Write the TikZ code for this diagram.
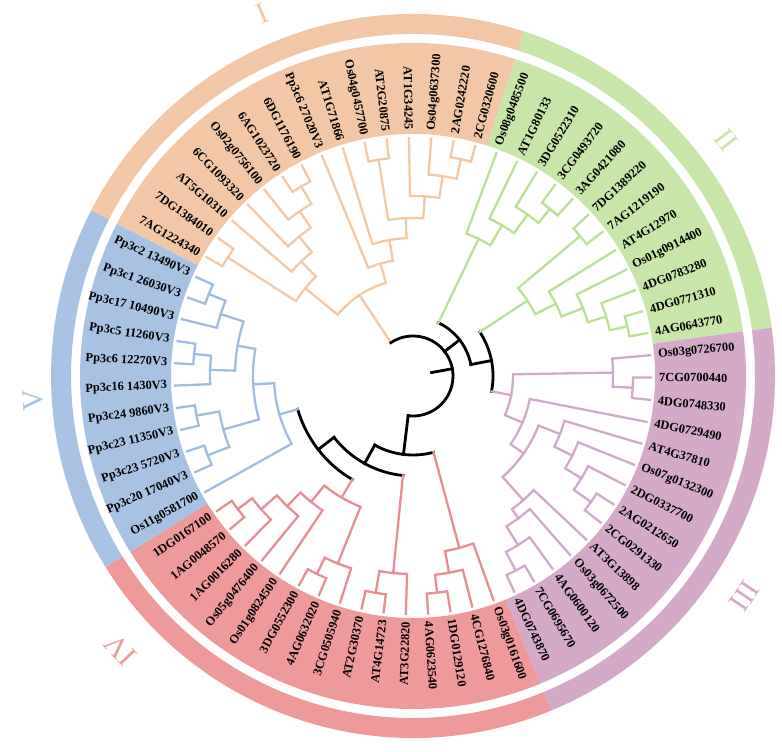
\documentclass[tikz,border=0pt]{standalone}
\usepackage{fontspec}
\setmainfont{Liberation Serif}
\definecolor{bOrg}{RGB}{243,198,165}
\definecolor{bGrn}{RGB}{200,230,168}
\definecolor{bPnk}{RGB}{213,170,201}
\definecolor{bRed}{RGB}{238,154,154}
\definecolor{bBlu}{RGB}{168,194,228}
\definecolor{lOrg}{RGB}{242,200,165}
\definecolor{lGrn}{RGB}{185,225,150}
\definecolor{lPnk}{RGB}{208,170,200}
\definecolor{lRed}{RGB}{232,142,146}
\definecolor{lBlu}{RGB}{160,188,225}
\tikzset{
  br/.style={line width=2.3pt,line cap=rect,line join=miter},
  org/.style={br,draw=lOrg}, grn/.style={br,draw=lGrn}, pnk/.style={br,draw=lPnk},
  red/.style={br,draw=lRed}, blu/.style={br,draw=lBlu},
  blk/.style={line width=2.8pt,line cap=rect,draw=black},
  lab/.style={inner sep=0pt,font=\bfseries\fontsize{12.4}{12.4}\selectfont},
  rom/.style={inner sep=0pt,font=\fontsize{30}{30}\selectfont}
}
\def\T{238}
\newcommand\tn[6]{\draw[#1] (#3:#4pt) -- (#3:#2pt) arc[start angle=#3, end angle=#5, radius=#2pt] -- (#5:#6pt);}
\newcommand\sect[5]{\fill[#1] (#2:#4pt) arc[start angle=#2, end angle=#3, radius=#4pt] -- (#3:#5pt) arc[start angle=#3, end angle=#2, radius=#5pt] -- cycle;}
\begin{document}
\begin{tikzpicture}
\useasboundingbox (-413pt,-376pt) rectangle (369pt,376pt);
% label band
\sect{bGrn}{72.164}{7.687}{242}{333}
\sect{bPnk}{7.687}{-67.537}{242}{333}
\sect{bRed}{-67.537}{-148.134}{242}{333}
\sect{bBlu}{-148.134}{-207.239}{242}{333}
\sect{bOrg}{152.761}{72.164}{242}{333}
% outer ring
\sect{bGrn}{72.164}{7.687}{342}{362}
\sect{bPnk}{7.687}{-67.537}{342}{362}
\sect{bRed}{-67.537}{-148.134}{342}{362}
\sect{bBlu}{-148.134}{-207.239}{342}{362}
\sect{bOrg}{152.761}{72.164}{342}{362}
% roman numerals
\node[rom,text=bOrg,rotate=22.6] (nI) at (112.6:393pt) {I};
\node[rom,text=bGrn,rotate=-53] (nII) at (37:392pt) {II};
\node[rom,text=bPnk,rotate=-123.6] (nIII) at (-33.6:398pt) {III};
\node[rom,text=bRed,rotate=133.1] (nIV) at (-136.9:400pt) {IV};
\node[rom,text=bBlu,rotate=93.6] (nV) at (-176.4:381pt) {V};
% ---- blue clade
\tn{blu}{220}{-204.552}{\T}{-199.179}{\T}
\tn{blu}{202}{-201.866}{220}{-193.806}{\T}
\tn{blu}{220}{-188.433}{\T}{-183.060}{\T}
\tn{blu}{203}{-185.746}{220}{-177.687}{\T}
\tn{blu}{178}{-197.836}{202}{-181.717}{203}
\tn{blu}{220}{-172.313}{\T}{-166.940}{\T}
\tn{blu}{220}{-161.567}{\T}{-156.194}{\T}
\tn{blu}{197}{-169.627}{220}{-158.881}{220}
\tn{blu}{160}{-189.776}{178}{-164.254}{197}
\tn{blu}{139}{-177.015}{160}{-150.821}{\T}
% ---- red clade
\tn{red}{220}{-145.448}{\T}{-140.075}{\T}
\tn{red}{202}{-142.761}{220}{-134.701}{\T}
\tn{red}{181}{-138.731}{202}{-129.328}{\T}
\tn{red}{162}{-134.030}{181}{-123.955}{\T}
\tn{red}{220}{-118.582}{\T}{-113.209}{\T}
\tn{red}{202}{-115.896}{220}{-107.836}{\T}
\tn{red}{141}{-128.992}{162}{-111.866}{202}
\tn{red}{220}{-102.463}{\T}{-97.090}{\T}
\tn{red}{198}{-99.776}{220}{-91.716}{\T}
\tn{red}{218}{-86.343}{\T}{-80.970}{\T}
\tn{red}{200}{-83.657}{218}{-75.597}{\T}
\tn{red}{178}{-79.627}{200}{-70.224}{\T}
% ---- pink clade
\tn{pnk}{220}{-0.373}{\T}{-5.746}{\T}
\tn{pnk}{200}{5.000}{\T}{-3.060}{220}
\tn{pnk}{218}{-32.612}{\T}{-37.985}{\T}
\tn{pnk}{197}{-27.239}{\T}{-35.299}{218}
\tn{pnk}{178}{-21.866}{\T}{-31.269}{197}
\tn{pnk}{158}{-16.493}{\T}{-26.568}{178}
\tn{pnk}{220}{-59.478}{\T}{-64.851}{\T}
\tn{pnk}{199}{-54.104}{\T}{-62.165}{220}
\tn{pnk}{177}{-48.731}{\T}{-58.135}{199}
\tn{pnk}{166}{-43.358}{\T}{-53.433}{177}
\tn{pnk}{135}{-21.531}{158}{-48.396}{166}
\tn{pnk}{119}{-11.119}{\T}{-34.964}{135}
\tn{pnk}{100}{0.970}{200}{-23.042}{119}
% ---- green clades
\tn{grn}{218}{42.612}{\T}{37.239}{\T}
\tn{grn}{220}{15.746}{\T}{10.373}{\T}
\tn{grn}{202}{21.119}{\T}{13.060}{220}
\tn{grn}{183}{26.493}{\T}{17.090}{202}
\tn{grn}{160}{31.866}{\T}{21.792}{183}
\tn{grn}{137}{39.926}{218}{26.829}{160}
\tn{grn}{216}{53.358}{\T}{47.985}{\T}
\tn{grn}{198}{58.731}{\T}{50.672}{216}
\tn{grn}{175}{64.104}{\T}{54.701}{198}
\tn{grn}{152}{69.478}{\T}{59.403}{175}
% ---- orange clade
\tn{org}{219}{101.716}{\T}{96.343}{\T}
\tn{org}{222}{80.224}{\T}{74.851}{\T}
\tn{org}{202}{85.597}{\T}{77.538}{222}
\tn{org}{180}{90.970}{\T}{81.567}{202}
\tn{org}{158}{99.030}{219}{86.269}{180}
\tn{org}{138}{107.090}{\T}{92.649}{158}
\tn{org}{117}{112.463}{\T}{99.870}{138}
\tn{org}{220}{123.209}{\T}{117.836}{\T}
\tn{org}{200}{128.582}{\T}{120.523}{220}
\tn{org}{180}{133.955}{\T}{124.552}{200}
\tn{org}{160}{139.328}{\T}{129.254}{180}
\tn{org}{220}{150.075}{\T}{144.702}{\T}
\tn{org}{139}{147.389}{220}{134.291}{160}
\tn{org}{97}{140.840}{139}{106.166}{117}
% ---- backbone
\draw[org] (123.503:40pt) -- (123.503:97pt);
\draw[blk] (10.5:19pt) -- (10.5:40pt);
\draw[blk] (123.503:40pt) arc[start angle=123.503, end angle=-96.943, radius=40pt];
\draw[blk] (37.806:40pt) -- (37.806:59pt);
\draw[blk] (-96.943:40pt) -- (-96.943:79pt);
\draw[blk] (64.440:59pt) arc[start angle=64.440, end angle=11.171, radius=59pt];
\draw[grn] (64.440:59pt) -- (64.440:152pt);
\draw[blk] (11.171:59pt) -- (11.171:80pt);
\draw[blk] (33.378:80pt) arc[start angle=33.378, end angle=-11.036, radius=80pt];
\draw[grn] (33.378:80pt) -- (33.378:137pt);
\draw[pnk] (-11.036:80pt) -- (-11.036:100pt);
\draw[blk] (-74.926:79pt) arc[start angle=-74.926, end angle=-118.960, radius=79pt];
\draw[red] (-74.926:79pt) -- (-74.926:178pt);
\draw[blk] (-118.960:79pt) -- (-118.960:100pt);
\draw[blk] (-95.746:100pt) arc[start angle=-95.746, end angle=-142.174, radius=100pt];
\draw[red] (-95.746:100pt) -- (-95.746:198pt);
\draw[blk] (-142.174:100pt) -- (-142.174:120pt);
\draw[blk] (-120.429:120pt) arc[start angle=-120.429, end angle=-163.918, radius=120pt];
\draw[red] (-120.429:120pt) -- (-120.429:141pt);
\draw[blu] (-163.918:120pt) -- (-163.918:139pt);
% ---- labels
\foreach \k/\t in {0/Os03g0726700,1/7CG0700440,2/4DG0748330,3/4DG0729490,4/AT4G37810,5/Os07g0132300,6/2DG0337700,7/2AG0212650,8/2CG0291330,9/AT3G13898,10/Os03g0672500,11/4AG0600120,12/7CG0695670,13/4DG0743870,14/Os03g0161600,15/4CG1276840,16/1DG0129120,17/4AG0623540,18/AT3G22820,19/AT4G14723,20/AT2G30370,21/3CG0505940,22/4AG0632020,23/3DG0552300,24/Os01g0824500,25/Os05g0476400,26/1AG0016280,27/1AG0048570,28/1DG0167100,29/Os11g0581700,30/Pp3c20 17040V3,31/Pp3c23 5720V3,32/Pp3c23 11350V3,33/Pp3c24 9860V3,34/Pp3c16 1430V3,35/Pp3c6 12270V3,36/Pp3c5 11260V3,37/Pp3c17 10490V3,38/Pp3c1 26030V3,39/Pp3c2 13490V3,40/7AG1224340,41/7DG1384010,42/AT5G10310,43/6CG1093320,44/Os02g0756100,45/6AG1023720,46/6DG1176190,47/Pp3c6 27020V3,48/AT1G71866,49/Os04g0457700,50/AT2G20875,51/AT1G34245,52/Os04g0637300,53/2AG0242220,54/2CG0320600,55/Os08g0485500,56/AT1G80133,57/3DG0522310,58/3CG0493720,59/3AG0421080,60/7DG1389220,61/7AG1219190,62/AT4G12970,63/Os01g0914400,64/4DG0783280,65/4DG0771310,66/4AG0643770}{
  \pgfmathsetmacro\a{5-\k*5.373134}
  \pgfmathsetmacro\c{cos(\a)}
  \ifdim\c pt>0pt
    \node[lab,anchor=west,rotate=\a] (L\k) at (\a:246pt) {\t};
  \else
    \node[lab,anchor=east,rotate=\a+180] (L\k) at (\a:246pt) {\t};
  \fi
}
\end{tikzpicture}
\end{document}
